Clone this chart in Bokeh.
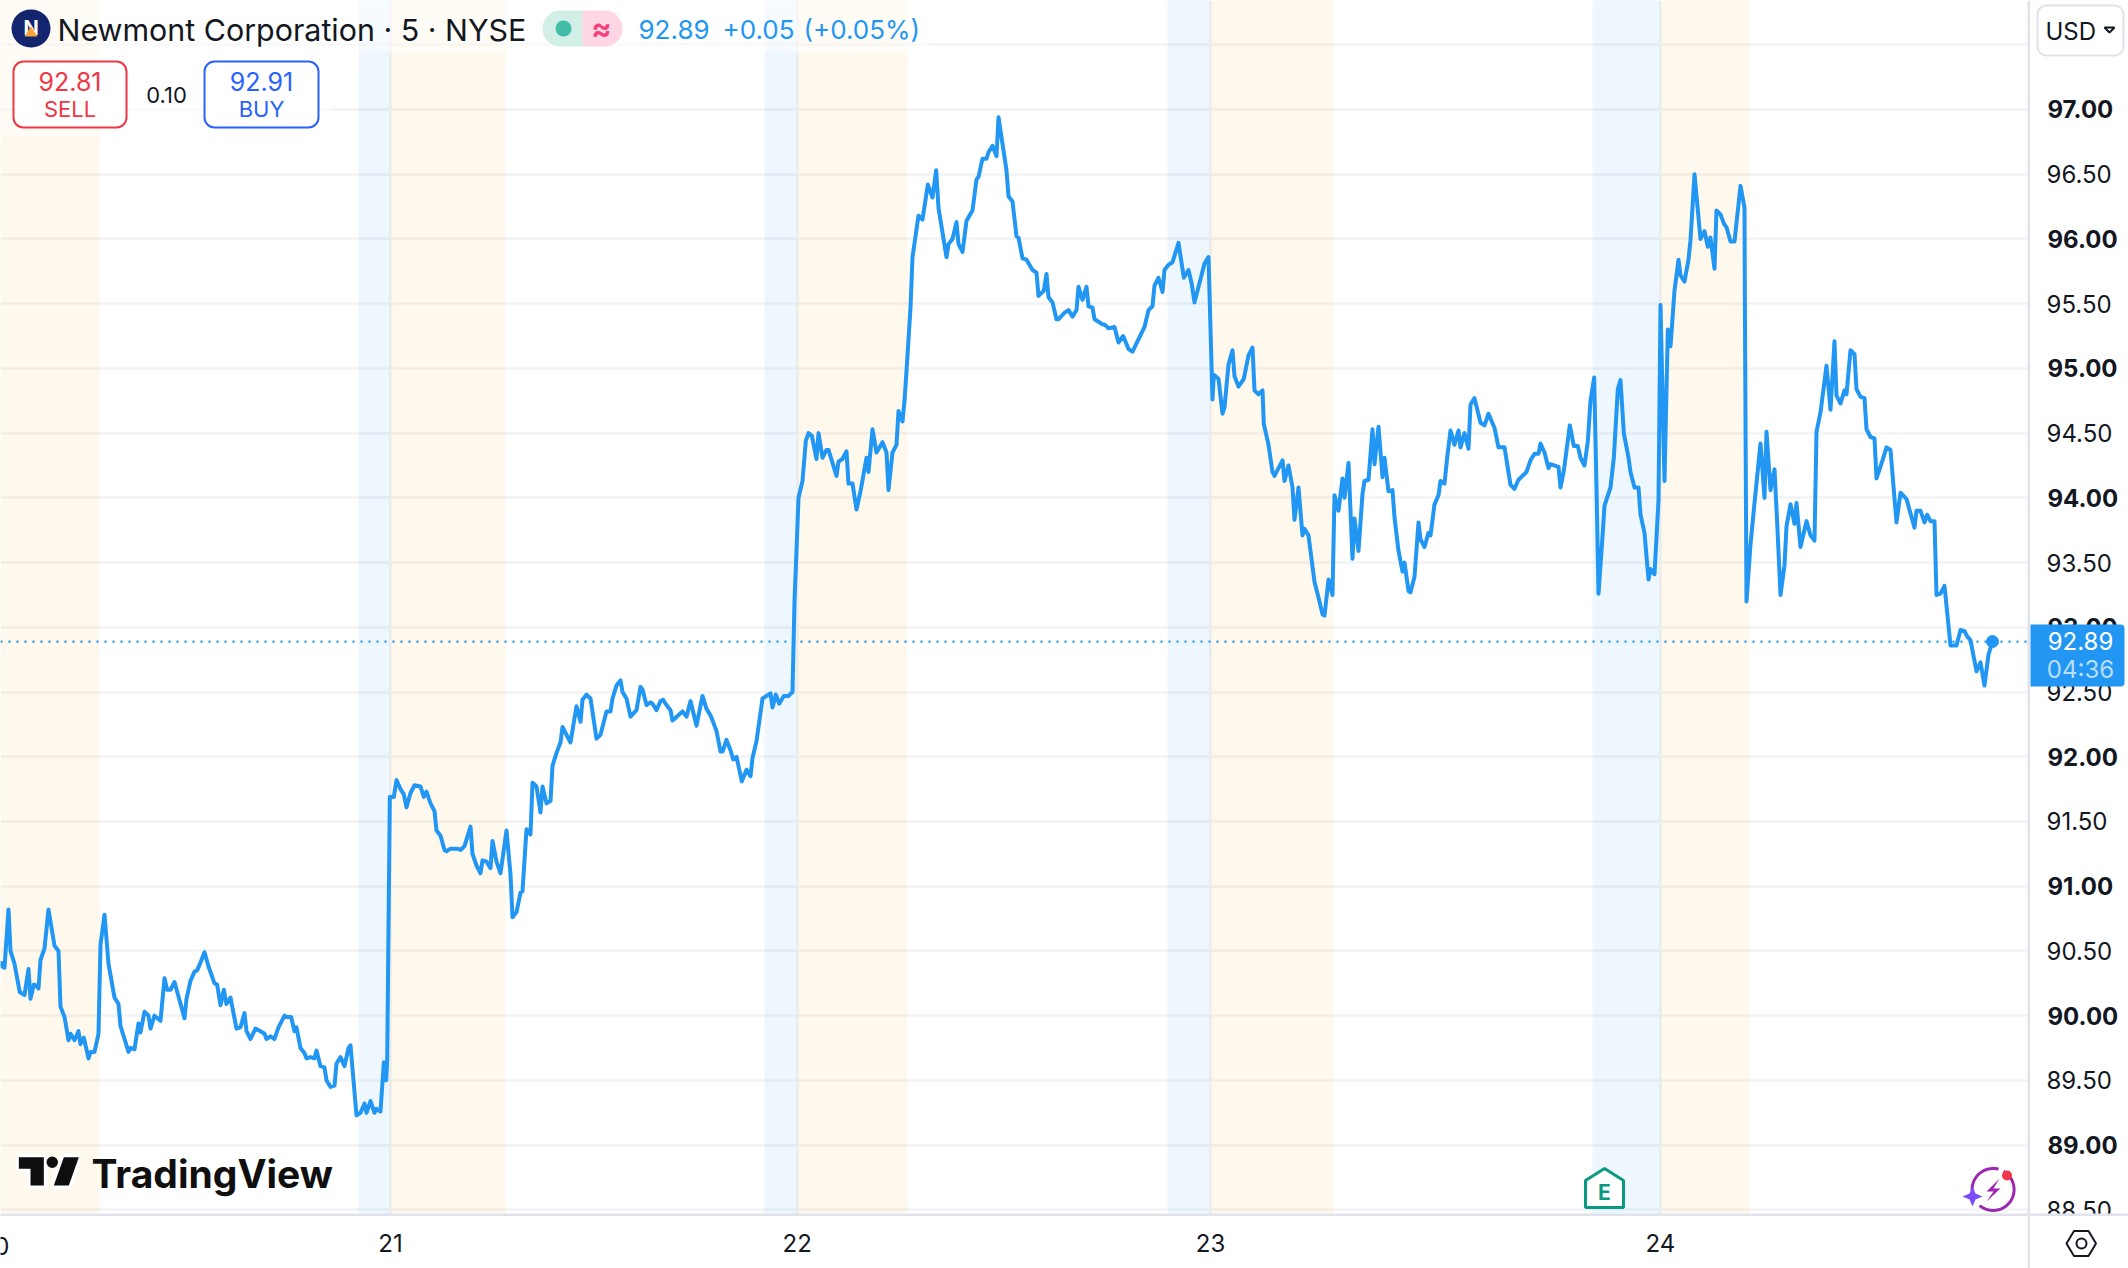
import math
from bokeh.embed import file_html
from bokeh.layouts import column
from bokeh.resources import INLINE
from bokeh.plotting import figure
from bokeh.models import (BoxAnnotation, ColumnDataSource, FixedTicker, Label,
                          PolyAnnotation, PrintfTickFormatter, Span)

# Series: (bar number, close price), by session day
day20 = [(0,90.42),(0.5,90.38),(1.2,90.37),(1.6,90.52),(2.4,90.82),(3,90.50),(4.2,90.40),(5.8,90.18),(7.2,90.16),(8.4,90.36),(9,90.13),(10,90.24),(10.8,90.23),(11.4,90.21),(12,90.43),(13.2,90.52),(14.4,90.82),(16.2,90.54),(17.4,90.50),(18,90.07),(19.2,89.99),(20.4,89.81),(21,89.86),(22.2,89.81),(23.4,89.88),(24,89.78),(25,89.83),(26.4,89.67),(27,89.72),(28.2,89.72),(29.4,89.86),(30,90.55),(31.2,90.78),(32.4,90.40),(34.2,90.14),(35.4,90.09),(36,89.92),(38.4,89.72),(39,89.75),(40.2,89.74),(41.4,89.94),(42,89.87),(43.2,90.03),(44.4,90.00),(45,89.90),(46.2,90.00),(48,89.96),(49.2,90.29),(50,90.20),(51,90.20),(52.2,90.26),(55.2,89.98),(55.8,90.13),(57,90.27),(58.2,90.34),(59,90.35),(60,90.41),(61.2,90.49),(62.4,90.38),(64.2,90.25),(65,90.24),(66,90.08),(67,90.20),(67.8,90.09),(69,90.14),(70.8,89.90),(72,89.91),(73.2,90.02),(73.8,89.88),(75,89.82),(76.5,89.90),(78,89.88),(79.2,89.86),(79.8,89.82),(81,89.84),(82.2,89.82),(83.4,89.91),(85.2,90.00),(85.8,89.99),(87.2,89.99),(88.2,89.88),(88.8,89.91),(90,89.75),(91.2,89.71),(91.8,89.67),(93,89.68),(94.2,89.67),(94.8,89.73),(96,89.61),(97.2,89.60),(97.8,89.50),(99,89.45),(100.2,89.46),(100.8,89.63),(102,89.68),(103.2,89.61),(104.4,89.75),(105,89.77),(106.8,89.23),(108,89.25),(109.2,89.32),(109.8,89.25),(111,89.34),(112.2,89.25),(112.8,89.28),(114,89.26),(115,89.64),(115.7,89.50),(116,89.65)]
day21 = [(116.8,91.69),(118,91.69),(118.8,91.82),(120,91.75),(121,91.71),(121.8,91.61),(123,91.72),(124.2,91.78),(126,91.77),(127,91.69),(127.8,91.73),(129,91.64),(130.2,91.58),(130.8,91.43),(132,91.39),(133.2,91.28),(133.8,91.27),(135,91.29),(136.2,91.29),(137,91.29),(138,91.28),(139.2,91.31),(141,91.46),(141.6,91.25),(142.8,91.16),(144,91.10),(144.6,91.20),(145.8,91.19),(147,91.14),(147.6,91.35),(148.8,91.19),(150,91.10),(151.8,91.43),(153,91.09),(153.6,90.76),(154.8,90.80),(156,90.95),(156.6,90.96),(157.8,91.44),(159,91.40),(159.6,91.80),(160.8,91.77),(162,91.57),(162.6,91.77),(163.8,91.64),(165,91.66),(165.6,91.93),(166.8,92.03),(168,92.11),(168.6,92.23),(169.8,92.17),(171,92.11),(172.8,92.39),(174,92.27),(174.6,92.44),(175.8,92.48),(177,92.45),(178.8,92.14),(180,92.17),(181.8,92.35),(183,92.35),(183.6,92.45),(184.8,92.55),(186,92.59),(186.6,92.50),(187.8,92.45),(189,92.31),(190.8,92.36),(192,92.54),(192.6,92.52),(193.8,92.40),(195,92.42),(195.6,92.41),(196.8,92.36),(198,92.43),(198.8,92.44),(199.8,92.40),(201,92.36),(201.6,92.28),(204.6,92.35),(205.8,92.31),(207,92.43),(208.8,92.24),(210.6,92.47),(211.8,92.37),(213,92.32),(214.8,92.20),(216,92.04),(216.6,92.04),(217.8,92.13),(219,92.05),(219.8,91.98),(220.8,92.00),(222.4,91.81),(223.8,91.90),(225,91.85),(225.6,91.99),(226.8,92.12),(228.6,92.45),(229.8,92.47)]
day22 = [(231,92.49),(231.6,92.38),(232.6,92.48),(233.6,92.41),(235,92.47),(236.4,92.47),(237.6,92.50),(238.2,93.20),(238.8,93.59),(239.4,94.00),(240.6,94.13),(241.6,94.44),(242.4,94.50),(243.4,94.48),(244.8,94.30),(245.4,94.50),(246.6,94.31),(247.8,94.37),(248.4,94.37),(250.8,94.17),(251.4,94.28),(252.6,94.30),(253.8,94.36),(254.4,94.11),(255.6,94.11),(256.8,93.91),(258,94.05),(259.8,94.31),(260.4,94.20),(261.6,94.53),(262.8,94.35),(264.6,94.43),(265.8,94.35),(266.4,94.06),(267.6,94.35),(268.8,94.41),(269.4,94.67),(270.6,94.59),(271.2,94.75),(271.8,94.98),(273,95.47),(273.6,95.86),(275.4,96.18),(276.6,96.15),(278.2,96.42),(279.6,96.32),(280.7,96.53),(281.4,96.24),(283.8,95.86),(284.4,95.96),(285.6,96.00),(286.8,96.13),(287.4,95.96),(288.6,95.90),(289.8,96.14),(291.6,96.22),(292.8,96.46),(293.4,96.48),(294.6,96.62),(295.8,96.62),(296.4,96.67),(297.6,96.72),(298.8,96.64),(299.4,96.94),(301.8,96.53),(302.4,96.33),(303.6,96.29),(304.8,96.02),(305.4,96.01),(306.6,95.85),(307.8,95.84),(309.6,95.76),(310.8,95.74),(311.4,95.56),(313,95.60),(313.8,95.73),(314.4,95.55),(315.6,95.51),(316.8,95.38),(317.4,95.38),(319.2,95.43),(320.4,95.45),(321.6,95.40),(322.8,95.45),(323.4,95.63),(324.6,95.53),(325.8,95.63),(326.4,95.48),(327.6,95.47),(328.2,95.38),(329.4,95.36),(330.6,95.34),(331.2,95.34),(332.4,95.31),(334.2,95.32),(335.4,95.20),(336.8,95.25),(338.4,95.15),(339.6,95.13),(343.2,95.32),(344.4,95.45),(345.6,95.48),(346.2,95.64),(347.4,95.70),(348.6,95.59),(349.2,95.76),(350.4,95.80),(351.6,95.82),(353.4,95.97),(355,95.70),(356.4,95.76),(357.4,95.65),(358.2,95.51),(361.2,95.81),(362.4,95.86)]
day23 = [(363.6,94.76),(364,94.95),(365.4,94.92),(366.6,94.65),(367.2,94.70),(368.4,95.03),(369.6,95.14),(370.2,94.94),(371.4,94.86),(373,94.92),(374.4,95.10),(375.6,95.16),(376.2,94.83),(377.4,94.80),(378.6,94.83),(379,94.57),(380.4,94.41),(381.6,94.20),(382.2,94.17),(384.6,94.29),(385.2,94.13),(386.4,94.25),(387.6,94.08),(388.2,93.83),(389.4,94.08),(390.6,93.71),(391.2,93.76),(392.4,93.71),(394.2,93.35),(395.4,93.23),(396.6,93.10),(397.2,93.09),(398.4,93.37),(399.6,93.25),(400.2,94.02),(401.4,93.90),(402.6,94.15),(403.2,94.00),(404.4,94.27),(405.6,93.53),(406.2,93.84),(407.4,93.59),(408.6,94.03),(409.2,94.13),(410.4,94.14),(411.6,94.53),(412.2,94.26),(413.4,94.55),(414.6,94.16),(415.2,94.31),(416.4,94.05),(417.6,94.06),(418.2,93.85),(419.4,93.59),(420.6,93.43),(421.2,93.50),(422.4,93.28),(423,93.27),(424.2,93.39),(425.4,93.81),(426,93.68),(427.2,93.62),(428.4,93.73),(429,93.71),(430.2,93.95),(431.4,94.02),(432,94.13),(433.2,94.11),(434,94.31),(435,94.52),(436.2,94.41),(437.4,94.52),(438,94.39),(439.2,94.50),(440.4,94.38),(441,94.72),(442.2,94.77),(444,94.58),(445.2,94.56),(446.4,94.65),(448.2,94.54),(449.4,94.39),(451.2,94.39),(453,94.10),(454.2,94.07),(455.4,94.14),(457.8,94.20),(459,94.29),(460.2,94.34),(461.4,94.34),(462,94.42),(463.2,94.35),(464.4,94.23),(465,94.26),(467.4,94.24),(468,94.08),(469,94.21),(470.8,94.56),(472,94.40),(473.2,94.40),(474,94.31),(475.2,94.25),(476.2,94.44),(477,94.75),(478.1,94.93),(478.8,94.08),(479.4,93.26),(480.6,93.70),(481.2,93.94),(483,94.08),(484,94.31),(485.2,94.84),(486,94.91),(487,94.50),(488.4,94.31),(489,94.20),(490.2,94.08),(491.4,94.08),(492,93.87),(493.2,93.73),(494.4,93.37),(495,93.45),(496.2,93.41),(497.4,93.98)]
day24 = [(498,95.49),(499.2,94.13),(500.2,95.30),(501,95.17),(502.2,95.60),(503.4,95.84),(504,95.72),(505.2,95.67),(506.4,95.84),(507,95.99),(508.2,96.50),(510,96.00),(511.2,96.06),(512.2,95.94),(513,96.01),(514.2,95.77),(514.8,96.22),(516,96.19),(517,96.12),(517.8,96.09),(519,95.98),(520.2,95.98),(522,96.41),(523.2,96.24),(523.3,95.57),(523.8,93.20),(525,93.64),(526.2,93.96),(528,94.42),(529.2,94.00),(529.8,94.51),(531,94.06),(532.2,94.22),(533,93.81),(534,93.25),(535.2,93.48),(535.8,93.78),(537,93.95),(538.2,93.80),(538.8,93.96),(540,93.62),(541.8,93.82),(543,93.71),(544.2,93.67),(544.8,94.51),(546,94.66),(547.8,95.02),(549,94.68),(550.2,95.21),(550.8,94.79),(552,94.73),(553.2,94.83),(553.8,94.80),(555,95.14),(556.2,95.11),(556.8,94.84),(558,94.78),(559.2,94.77),(559.8,94.53),(561,94.47),(562.2,94.46),(562.8,94.15),(564.6,94.29),(565.8,94.39),(567,94.37),(568.8,93.81),(570,94.04),(571.8,93.99),(574.2,93.77),(574.8,93.90),(576,93.90),(577.2,93.81),(578,93.87),(579,93.82),(580.2,93.82),(580.8,93.25),(582,93.26),(583.2,93.32),(585,92.86),(586.8,92.86),(588,92.98),(589.2,92.97),(590,92.93),(591,92.90),(592.8,92.66),(594,92.73),(595.2,92.55),(596.4,92.79),(597.6,92.89)]

pre_sessions = [(0, 29.7), (117, 151.5), (239, 272), (363, 399.8), (498, 524.7)]
post_sessions = [(107.4, 117), (229.2, 239), (350.1, 363), (477.6, 498)]
day_bars = [117, 239, 363, 498]
day_labels = ["21", "22", "23", "24"]
minor_prices = [88.5, 89.5, 90.5, 91.5, 92.5, 93.5, 94.5, 95.5, 96.5]
major_prices = [89, 90, 91, 92, 93, 94, 95, 96, 97]
grid_prices = minor_prices + major_prices + [97.5]
last_price = 92.89

title = "Newmont Corporation · 5 · NYSE"
BLUE, RED, BUY, INK = "#2196f3", "#f23645", "#2962ff", "#131722"
FONT = "Inter"

W, H, AX_R, AX_B = 2128, 1268, 100, 54
Y_LO, Y_HI = 88.464, 97.842
series = day20 + day21 + day22 + day23 + day24
bars = [b for b, _ in series]
prices = [c for _, c in series]

p = figure(width=W, height=H, x_range=(0, 608.4), y_range=(Y_LO, Y_HI),
           toolbar_location=None, output_backend="svg", y_axis_location="right",
           min_border_left=0, min_border_top=0, min_border_right=AX_R, min_border_bottom=AX_B,
           outline_line_color=None, background_fill_color="white", margin=0, frame_align=False)

# overlay figure: same canvas, frame spans all of it, holds the chrome
o = figure(width=W, height=H, x_range=(0, W), y_range=(H, 0), toolbar_location=None, output_backend="svg",
           x_axis_location=None, y_axis_location=None, min_border=0, outline_line_color=None,
           background_fill_alpha=0, border_fill_alpha=0, margin=(-H, 0, 0, 0), frame_align=False)
o.xgrid.visible = False
o.ygrid.visible = False

# axes + grid
p.yaxis.ticker = FixedTicker(ticks=minor_prices)
p.yaxis.formatter = PrintfTickFormatter(format="%.2f")
p.yaxis.major_tick_line_color = None
p.yaxis.minor_tick_line_color = None
p.yaxis.axis_line_color = None
p.yaxis.major_label_standoff = 12
p.yaxis.major_label_text_font = FONT
p.yaxis.major_label_text_font_size = "24px"
p.yaxis.major_label_text_color = INK
p.xaxis.ticker = FixedTicker(ticks=day_bars)
p.xaxis.major_label_overrides = dict(zip(day_bars, day_labels))
p.xaxis.major_tick_line_color = None
p.xaxis.minor_tick_line_color = None
p.xaxis.axis_line_color = None
p.xaxis.major_label_standoff = 13
p.xaxis.major_label_text_font = FONT
p.xaxis.major_label_text_font_size = "24px"
p.xaxis.major_label_text_color = INK
p.ygrid.ticker = FixedTicker(ticks=grid_prices)
p.xgrid.ticker = FixedTicker(ticks=day_bars)
for g in (p.xgrid, p.ygrid):
    g.grid_line_color = "#f2f3f5"
    g.grid_line_width = 2.4

# session bands
p.quad(left=[a for a, _ in pre_sessions], right=[b for _, b in pre_sessions], bottom=88, top=98,
       fill_color="#ff9800", fill_alpha=0.07, line_color=None)
p.quad(left=[a for a, _ in post_sessions], right=[b for _, b in post_sessions], bottom=88, top=98,
       fill_color=BLUE, fill_alpha=0.075, line_color=None)

# price
p.add_layout(Span(location=last_price, dimension="width", line_color=BLUE, line_width=2.2, line_dash="2 6"))
src = ColumnDataSource(dict(bar=bars, price=prices))
p.line("bar", "price", source=src, line_color=BLUE, line_width=4, line_join="round")
p.scatter(bars[-1:], prices[-1:], size=12, color=BLUE, line_color=BLUE)


def box(l, r, t, b, fill="white", alpha=1.0, line=None, lw=0, radius=0):
    o.add_layout(BoxAnnotation(left=l, right=r, top=t, bottom=b, left_units="canvas", right_units="canvas",
                               top_units="canvas", bottom_units="canvas", fill_color=fill, fill_alpha=alpha,
                               line_color=line, line_alpha=1.0, line_width=lw, border_radius=radius))


def txt(s, x, y, size, color=INK, style="normal", align="center", alpha=1.0):
    o.add_layout(Label(x=x, y=y, x_units="canvas", y_units="canvas", text=s, text_font=FONT,
                       text_font_size=f"{size}px", text_color=color, text_alpha=alpha, text_font_style=style,
                       text_align=align, text_baseline="middle"))


def poly(pts, fill=None, line=None, lw=0):
    o.add_layout(PolyAnnotation(xs=[a for a, _ in pts], ys=[b for _, b in pts], xs_units="canvas", ys_units="canvas",
                                fill_color=fill, fill_alpha=1.0 if fill else 0.0, line_color=line, line_alpha=1.0,
                                line_width=lw))


def arc(cx, cy, r, a0, a1, w, fill):
    n = 24
    ang = [math.radians(a0 + (a1 - a0) * i / n) for i in range(n + 1)]
    outer = [(cx + (r + w / 2) * math.cos(t), cy + (r + w / 2) * math.sin(t)) for t in ang]
    inner = [(cx + (r - w / 2) * math.cos(t), cy + (r - w / 2) * math.sin(t)) for t in reversed(ang)]
    poly(outer + inner, fill=fill)


# bold integer price labels, placed with the price scale of the frame (1214 px tall)
for v in major_prices:
    txt(f"{v:.2f}", 2047, (H - AX_B) * (Y_HI - v) / (Y_HI - Y_LO), 24, INK, "bold", align="left")

# first day label runs off the left edge, as in the chart
txt("20", -6, 1245, 24, INK)

# frame lines and right-hand cells
box(2030, W, 1215, H)
box(2027, 2029.6, 0, H, fill="#e0e3eb")
box(0, W, 1213, 1215.6, fill="#e0e3eb")

# legend backing
box(0, 930, 0, 52, alpha=0.5)
box(0, 330, 52, 136, alpha=0.5)

# header
box(11, 50, 9, 47, fill="#13256e", radius=19)
txt("N", 30.5, 27, 20, "white", "bold")
poly([(30.5, 26), (37, 36), (24, 36)], fill="#f7a23b")
txt(title, 57, 29, 30.4, INK, align="left")
box(542, 582, 10, 46, fill="#d1efe7", radius=(18, 0, 0, 18))
box(582, 622, 10, 46, fill="#ffd6e3", radius=(0, 18, 18, 0))
box(563 - 8, 563 + 8, 20, 36, fill="#42bda8", radius=8)
txt("≈", 601, 27, 30, "#f5407c", "bold")
txt("92.89", 638, 29, 26, BLUE, align="left")
txt("+0.05", 722, 29, 26, BLUE, align="left")
txt("(+0.05%)", 803, 29, 26, BLUE, align="left")

# sell / buy
box(13, 126, 61, 127, line=RED, lw=2, radius=10)
txt("92.81", 69.5, 81, 25, RED)
txt("SELL", 69.5, 108, 22, RED)
txt("0.10", 166, 94, 22, INK)
box(204, 318, 61, 127, line=BUY, lw=2, radius=10)
txt("92.91", 261, 81, 25, BUY)
txt("BUY", 261, 108, 22, BUY)

# currency button
box(2037, 2123, 5, 55, line="#e0e3eb", lw=2, radius=9)
txt("USD", 2045, 31, 24, INK, align="left")
poly([(2104, 27), (2109, 32), (2114, 27)], line=INK, lw=2)

# last-price tag
box(2030, 2124, 624, 686, fill=BLUE, radius=(0, 4, 4, 0))
txt("92.89", 2080, 640, 24, "white")
txt("04:36", 2080, 669, 24, "white", alpha=0.7)

# TradingView mark
K = "#0f0f0f"
pt = lambda pts: [(a / 3, 860 + b / 3) for a, b in pts]
tee = pt([(55, 890), (130, 890), (130, 975), (90, 975), (90, 925), (55, 925)])
slash = pt([(190, 890), (235, 890), (205, 975), (160, 975)])
for shape in (tee, slash):
    poly(shape, line="white", lw=7)
for shape in (tee, slash):
    poly(shape, fill=K)
box(46, 57.5, 1156, 1167.5, fill=K, radius=6)
txt("TradingView", 91, 1173, 39, K, "bold", align="left")

# earnings marker
poly([(1604, 1168), (1623, 1180), (1623, 1207), (1585, 1207), (1585, 1180)], fill="white", line="#089981", lw=3)
txt("E", 1604, 1192, 21, "#089981", "bold")

# assistant icon
arc(1992.6, 1189, 21, -60, 130, 3, "#9c27b0")
arc(1992.6, 1189, 21, 175, 285, 3, "#9c27b0")
poly([(1999, 1178), (1986, 1191), (1993, 1191), (1986, 1201), (2000, 1188), (1993, 1188)], fill="#9c27b0")
poly([(1972, 1186), (1975, 1193), (1982, 1196), (1975, 1199), (1972, 1206), (1969, 1199), (1962, 1196), (1969, 1193)],
     fill="#7b4dff")
box(2001.5, 2011.5, 1170, 1180, fill=RED, radius=5)

# settings icon
poly([(2066, 1243), (2073.5, 1230.5), (2088, 1230.5), (2095.5, 1243), (2088, 1255.5), (2073.5, 1255.5)],
     line=INK, lw=2)
box(2076, 2086, 1238, 1248, fill="white", line=INK, lw=2, radius=5)

open("out.html", "w").write(file_html(column(p, o, spacing=0), INLINE))
